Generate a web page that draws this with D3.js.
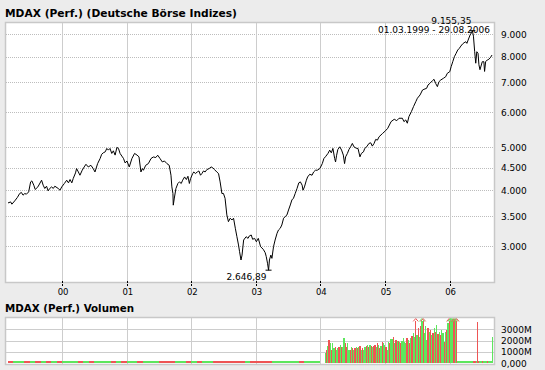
<!DOCTYPE html>
<html><head><meta charset="utf-8">
<script src="https://cdn.jsdelivr.net/npm/d3@7"></script>
<style>
body{margin:0;background:#ececec}
svg{display:block}
text{font-family:"DejaVu Sans",Verdana,sans-serif;fill:#000}
</style>
</head><body>
<svg id="c" width="545" height="370"></svg>
<script>
// ---------- DATA ----------
const chartTitle = "MDAX (Perf.) (Deutsche Börse Indizes)";
const volumeTitle = "MDAX (Perf.) Volumen";
const rangeLabel = "01.03.1999 - 29.08.2006";
const maxLabel = "9.155,35";
const minLabel = "2.646,89";
const periodStart = "1999-03-01";
const periodEnd = "2006-08-29";

const indexSeries = [
["1999-03-01",3750],["1999-03-16",3770],["1999-03-23",3726],["1999-04-08",3790],["1999-04-23",3858],
["1999-05-06",3938],["1999-05-16",3959],["1999-05-25",3904],["1999-06-04",3938],["1999-06-13",3924],
["1999-06-26",3971],["1999-07-07",4182],["1999-07-14",4204],["1999-07-25",4111],["1999-08-02",4021],
["1999-08-17",4075],["1999-09-07",4219],["1999-09-16",4111],["1999-09-25",4042],["1999-10-05",4090],
["1999-10-14",3992],["1999-10-23",4042],["1999-11-03",4075],["1999-11-12",4042],["1999-11-21",4090],
["1999-12-10",4042],["1999-12-20",4006],["1999-12-30",4075],
["2000-01-14",4148],["2000-01-27",4219],["2000-02-06",4161],["2000-02-15",4234],["2000-02-25",4161],
["2000-03-04",4256],["2000-03-17",4382],["2000-03-23",4481],["2000-04-02",4403],["2000-04-11",4329],
["2000-04-24",4444],["2000-05-05",4519],["2000-05-15",4582],["2000-05-28",4519],["2000-06-12",4558],
["2000-06-25",4481],["2000-07-05",4403],["2000-07-20",4598],["2000-08-03",4720],["2000-08-12",4826],
["2000-08-21",4862],["2000-09-01",4887],["2000-09-10",4974],["2000-09-19",4931],["2000-09-28",4974],
["2000-10-08",4847],["2000-10-17",4913],["2000-10-27",4805],["2000-11-06",5000],["2000-11-15",4974],
["2000-11-24",4847],["2000-12-04",4781],["2000-12-13",4725],["2000-12-23",4613],
["2001-01-02",4661],["2001-01-15",4519],["2001-01-30",4720],["2001-02-14",4847],["2001-02-28",4805],
["2001-03-11",4762],["2001-03-22",4403],["2001-03-30",4481],["2001-04-05",4442],["2001-04-18",4558],
["2001-05-03",4598],["2001-05-18",4720],["2001-05-31",4759],["2001-06-14",4745],["2001-06-25",4802],
["2001-07-08",4720],["2001-07-21",4638],["2001-08-02",4661],["2001-08-16",4598],["2001-08-29",4558],
["2001-09-08",4329],["2001-09-13",4075],["2001-09-19",3938],["2001-09-21",3707],["2001-09-27",3846],
["2001-10-06",4042],["2001-10-17",4148],["2001-10-26",4182],["2001-11-05",4148],["2001-11-13",4219],
["2001-11-24",4291],["2001-12-04",4234],["2001-12-13",4306],["2001-12-21",4148],["2001-12-28",4256],
["2002-01-09",4367],["2002-01-15",4403],["2002-01-24",4367],["2002-02-04",4403],["2002-02-13",4426],
["2002-02-22",4329],["2002-03-02",4367],["2002-03-11",4426],["2002-03-20",4403],["2002-03-30",4458],
["2002-04-12",4481],["2002-04-23",4519],["2002-05-01",4505],["2002-05-12",4458],["2002-05-25",4403],
["2002-06-04",4367],["2002-06-13",4182],["2002-06-23",3938],["2002-07-02",3938],["2002-07-11",3840],
["2002-07-21",3524],["2002-07-30",3403],["2002-08-09",3464],["2002-08-19",3433],["2002-08-28",3464],
["2002-09-07",3289],["2002-09-16",3148],["2002-09-25",3016],["2002-10-01",2913],["2002-10-09",2790],
["2002-10-15",2862],["2002-10-24",3094],["2002-11-07",3148],["2002-11-18",3121],["2002-11-25",3160],
["2002-12-06",3176],["2002-12-14",3106],["2002-12-25",3121],
["2003-01-04",3067],["2003-01-15",3121],["2003-01-28",2989],["2003-02-12",2949],["2003-02-23",2898],
["2003-03-01",2839],["2003-03-08",2744],["2003-03-14",2646.89],["2003-03-19",2790],["2003-03-27",2862],
["2003-04-02",2814],["2003-04-11",2989],["2003-04-20",3094],["2003-05-01",3204],["2003-05-09",3259],
["2003-05-19",3288],["2003-05-28",3345],["2003-06-07",3464],["2003-06-16",3493],["2003-06-26",3524],
["2003-07-05",3616],["2003-07-15",3711],["2003-07-24",3809],["2003-08-02",3843],["2003-08-12",3941],
["2003-08-22",4042],["2003-09-01",4161],["2003-09-10",4182],["2003-09-20",4111],["2003-09-25",4006],
["2003-10-03",4075],["2003-10-14",4219],["2003-10-21",4291],["2003-11-02",4351],["2003-11-15",4329],
["2003-11-24",4403],["2003-12-04",4442],["2003-12-14",4442],["2003-12-29",4481],
["2004-01-12",4598],["2004-01-21",4720],["2004-02-01",4776],["2004-02-13",4847],["2004-02-23",4931],
["2004-03-03",4862],["2004-03-12",4974],["2004-03-22",4720],["2004-03-27",4638],["2004-04-02",4802],
["2004-04-09",4948],["2004-04-20",5016],["2004-04-30",4931],["2004-05-10",4805],["2004-05-17",4598],
["2004-05-23",4762],["2004-06-02",4847],["2004-06-11",4948],["2004-06-20",5016],["2004-06-30",5105],
["2004-07-09",5016],["2004-07-24",4974],["2004-08-01",4974],["2004-08-12",4762],["2004-08-20",4847],
["2004-09-01",4887],["2004-09-08",4974],["2004-09-19",5016],["2004-10-02",5105],["2004-10-12",5121],
["2004-10-21",5034],["2004-10-31",5105],["2004-11-09",5212],["2004-11-19",5193],["2004-11-28",5283],
["2004-12-18",5376],
["2005-01-03",5449],["2005-01-16",5520],["2005-02-04",5715],["2005-02-22",5786],["2005-03-08",5744],
["2005-03-21",5816],["2005-04-09",5816],["2005-04-18",5715],["2005-04-28",5765],["2005-05-07",5668],
["2005-05-16",5865],["2005-05-30",6019],["2005-06-11",6177],["2005-06-24",6339],["2005-07-03",6452],
["2005-07-18",6562],["2005-08-01",6733],["2005-08-09",6757],["2005-08-24",6792],["2005-09-01",6910],
["2005-09-12",6971],["2005-09-26",7065],["2005-10-05",7117],["2005-10-14",6971],["2005-10-24",6851],
["2005-11-02",7029],["2005-11-12",7091],["2005-11-27",7153],["2005-12-10",7212],["2005-12-19",7340],
["2006-01-02",7403],["2006-01-10",7599],["2006-01-19",7796],["2006-01-28",8000],["2006-02-07",8142],
["2006-02-16",8282],["2006-02-25",8355],["2006-03-06",8455],["2006-03-15",8543],["2006-03-24",8601],
["2006-04-03",8646],["2006-04-09",8574],["2006-04-16",8723],["2006-04-27",8953],["2006-05-05",9061],
["2006-05-10",9155.35],["2006-05-16",8900],["2006-05-23",8210],["2006-05-29",7736],["2006-06-04",8210],
["2006-06-11",8142],["2006-06-16",7676],["2006-06-22",7480],["2006-07-05",7796],["2006-07-14",7796],
["2006-07-18",7413],["2006-07-24",7796],["2006-08-02",7865],["2006-08-11",7893],["2006-08-21",7975],
["2006-08-29",8071]
];

const yTickValues = [3000,3500,4000,4500,5000,6000,7000,8000,9000];
const yTickLabels = ["3.000","3.500","4.000","4.500","5.000","6.000","7.000","8.000","9.000"];
const xTickDates = ["2000-01-01","2001-01-01","2002-01-01","2003-01-01","2004-01-01","2005-01-01","2006-01-01"];
const xTickLabels = ["00","01","02","03","04","05","06"];

const volTickValues = [0,1000,2000,3000];
const volTickLabels = ["0,000","1000M","2000M","3000M"];
const volGridValues = [1000,2000,3000];

// monthly volume (million) 1999-03 .. 2003-12 ; u = up (green), d = down (red)
const volLowStart = "1999-03-01";
const volLowMonthly = [150,150,150,150,150,150,150,150,150,150,
  150,150,150,150,150,150,150,150,150,150,150,150,
  150,150,150,150,150,150,150,150,150,150,150,150,
  150,150,150,150,150,150,150,150,150,150,150,150,
  150,150,150,150,150,150,150,150,150,150,150,150];
const volLowDirs = "duudududud"+"uuududuuudud"+"uuduuuddduud"+"uduuddddddud"+"ddduuuuuduuu";

// weekly volume (million) from 2004-01-26
const volWeekStart = "2004-01-26";
const volWeekly = [
 900,1150,1500,2050,1750,1150,1750,1300,1400,1200,1300,
 1450,1600,1400,1450,2200,1750,1450,1750,1200,1150,1400,
 1300,1150,1300,1450,1300,1450,1500,1150,1300,1200,
 1450,1500,1600,1450,1600,1500,1400,1500,1600,1450,1750,
 1600,1300,1500,1900,1750,1600,1450,1150,1900,1750,2100,
 2100,2350,1800,2050,2000,2000,1900,1750,2000,2200,1900,
 1750,2200,2050,1750,2200,2400,2650,2350,4200,2500,3100,
 2350,3250,4200,4200,2650,3250,2050,3100,2800,2950,
 2500,2650,3100,2800,3400,2600,2800,2500,2950,2650,1900,
 2800,2950,3550,4200,4200,4200,4200,4200,4200,4200];
const volWeekDirs =
 "udududuuduu"+"duduudduudu"+"dududududu"+"ududududdud"+"ududuuduuduu"+
 "dudududuuuud"+"ududuudududu"+"duuudududu"+"dududuududud"+"uuududduuu";

// weekly volume (million) from 2006-02-13
const volLateStart = "2006-02-13";
const volLateWeekly = [150,150,150,150,150,150,150,150,150,150,150,150,150,150,150,150,
  3650,150,150,150,150,150,150,150,150,150,150,150,2350];
const volLateDirs = "uuuuuuuuuuuuu"+"ddudduuduuuduuuu";

// ---------- DRAW ----------
const parse = d3.timeParse("%Y-%m-%d");
const svg = d3.select("#c");
const green = "#5de65d", red = "#ee5555";
const L = 5, R = 495, T = 22, B = 283;

const x = d3.scaleTime().domain([parse(periodStart), parse(periodEnd)]).range([8, 492]);
const y = d3.scaleLog().domain([3000, 9000]).range([246, 34]);

// titles
svg.append("text").attr("x",5).attr("y",17).attr("font-size","10.5px").attr("font-weight","bold")
  .attr("textLength",232).attr("lengthAdjust","spacingAndGlyphs").text(chartTitle);
svg.append("text").attr("x",5).attr("y",311.5).attr("font-size","10.5px").attr("font-weight","bold")
  .attr("textLength",129).attr("lengthAdjust","spacingAndGlyphs").text(volumeTitle);

// main plot frame
svg.append("rect").attr("x",L+0.5).attr("y",T+0.5).attr("width",R-L-1).attr("height",B-T-1)
  .attr("fill","#fff").attr("stroke","#c8c8c8").attr("stroke-width",1.5);

const grid = svg.append("g").attr("shape-rendering","crispEdges");
grid.selectAll("line.h").data(yTickValues).join("line")
  .attr("x1",L+1).attr("x2",R-1).attr("y1",d=>Math.round(y(d))+0.5).attr("y2",d=>Math.round(y(d))+0.5)
  .attr("stroke","#bdbdbd").attr("stroke-dasharray","1,1");
grid.selectAll("line.v").data(xTickDates).join("line")
  .attr("x1",d=>Math.round(x(parse(d)))+0.5).attr("x2",d=>Math.round(x(parse(d)))+0.5)
  .attr("y1",T+1).attr("y2",B-1).attr("stroke","#cdcdcd");

// x ticks
const xt = svg.append("g");
xt.selectAll("line").data(xTickDates).join("line")
  .attr("x1",d=>Math.round(x(parse(d)))+0.5).attr("x2",d=>Math.round(x(parse(d)))+0.5)
  .attr("y1",281).attr("y2",287).attr("stroke","#000").attr("stroke-dasharray","2,1")
  .attr("shape-rendering","crispEdges");
xt.selectAll("text").data(xTickDates).join("text")
  .attr("x",d=>x(parse(d))+1).attr("y",295).attr("text-anchor","middle").attr("font-size","8.5px")
  .text((d,i)=>xTickLabels[i]);

// y labels
svg.append("g").selectAll("text").data(yTickValues).join("text")
  .attr("x",501).attr("y",d=>y(d)+3.5).attr("font-size","9px").text((d,i)=>yTickLabels[i]);

// line
svg.append("clipPath").attr("id","cp").append("rect").attr("x",L+1).attr("y",T+1).attr("width",R-L-2).attr("height",B-T-2);
const pts = indexSeries.map(d=>({date:parse(d[0]), v:d[1]}));
svg.append("path").datum(pts).attr("clip-path","url(#cp)")
  .attr("d", d3.line().x(d=>x(d.date)).y(d=>y(d.v)))
  .attr("fill","none").attr("stroke","#000").attr("stroke-width",1).attr("stroke-linejoin","round");

// extremes
const maxPt = pts.reduce((a,b)=>b.v>a.v?b:a);
const minPt = pts.reduce((a,b)=>b.v<a.v?b:a);
[maxPt,minPt].forEach(p=>{
  svg.append("line").attr("x1",x(p.date)-3).attr("x2",x(p.date)+3).attr("y1",y(p.v)).attr("y2",y(p.v))
    .attr("stroke","#000").attr("stroke-width",1);
});
svg.append("text").attr("x",x(maxPt.date)-1).attr("y",24).attr("text-anchor","end").attr("font-size","9px").text(maxLabel);
svg.append("text").attr("x",490).attr("y",33).attr("text-anchor","end").attr("font-size","9px").text(rangeLabel);
svg.append("text").attr("x",x(minPt.date)-2).attr("y",279.5).attr("text-anchor","end").attr("font-size","9px").text(minLabel);

// ---------- VOLUME ----------
const VT = 317, VB = 365;
const vy = d3.scaleLinear().domain([0,4000]).range([363,318]);
svg.append("rect").attr("x",L+0.5).attr("y",VT+0.5).attr("width",R-L-1).attr("height",VB-VT-1)
  .attr("fill","#fff").attr("stroke","#c8c8c8").attr("stroke-width",1.5);
const vg = svg.append("g").attr("shape-rendering","crispEdges");
vg.selectAll("line.h").data(volGridValues).join("line")
  .attr("x1",L+1).attr("x2",R-1).attr("y1",d=>Math.round(vy(d))+0.5).attr("y2",d=>Math.round(vy(d))+0.5)
  .attr("stroke","#cdcdcd");
vg.selectAll("line.v").data(xTickDates).join("line")
  .attr("x1",d=>Math.round(x(parse(d)))+0.5).attr("x2",d=>Math.round(x(parse(d)))+0.5)
  .attr("y1",VT+1).attr("y2",VB-1).attr("stroke","#cdcdcd");
svg.append("g").selectAll("text").data(volTickValues).join("text")
  .attr("x",501).attr("y",d=>vy(d)+3.5).attr("font-size","9px").text((d,i)=>volTickLabels[i]);

const bars = [];
const lowStart = parse(volLowStart);
volLowMonthly.forEach((v,i)=>{
  bars.push({d0:d3.timeMonth.offset(lowStart,i), d1:d3.timeMonth.offset(lowStart,i+1), v, up:volLowDirs[i]==="u"});
});
[[volWeekStart,volWeekly,volWeekDirs],[volLateStart,volLateWeekly,volLateDirs]].forEach(([s,vals,dirs])=>{
  const st = parse(s);
  vals.forEach((v,i)=>bars.push({d0:d3.timeWeek.offset(st,i), d1:d3.timeWeek.offset(st,i+1), v, up:dirs[i]==="u"}));
});
const CAP = 3700;
const bg = svg.append("g").attr("shape-rendering","crispEdges");
bg.selectAll("rect").data(bars).join("rect")
  .attr("x",d=>x(d.d0)).attr("width",d=>Math.max(1,x(d.d1)-x(d.d0)))
  .attr("y",d=>vy(Math.min(d.v,CAP))).attr("height",d=>vy(0)-vy(Math.min(d.v,CAP)))
  .attr("fill",d=>d.up?green:red);
svg.append("g").selectAll("path").data(bars.filter(d=>d.v>CAP)).join("path")
  .attr("d",d=>{const cx=(x(d.d0)+x(d.d1))/2, t=vy(3950), b=vy(CAP); return `M${cx-2.5},${b}L${cx},${t}L${cx+2.5},${b}`;})
  .attr("fill","none").attr("stroke",d=>d.up?green:red).attr("stroke-width",1);
</script>
</body></html>
